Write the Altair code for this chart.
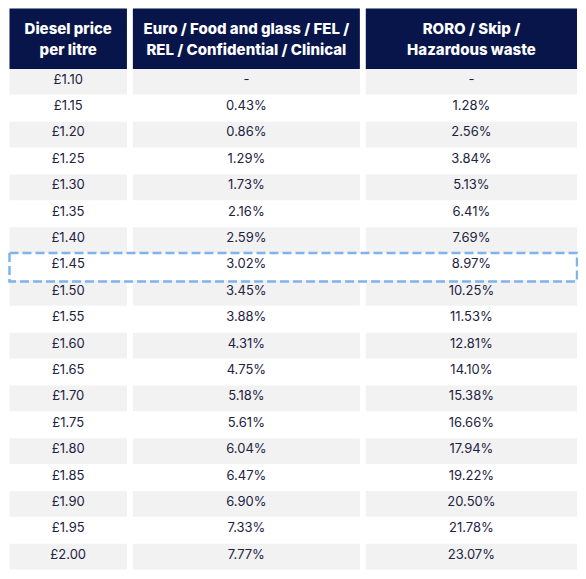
import altair as alt
import pandas as pd

# ---- data ----
headers = [
    "Diesel price\nper litre",
    "Euro / Food and glass / FEL /\nREL / Confidential / Clinical",
    "RORO / Skip /\nHazardous waste",
]
prices = ["£1.10", "£1.15", "£1.20", "£1.25", "£1.30", "£1.35", "£1.40", "£1.45",
          "£1.50", "£1.55", "£1.60", "£1.65", "£1.70", "£1.75", "£1.80", "£1.85",
          "£1.90", "£1.95", "£2.00"]
euro = ["-", "0.43%", "0.86%", "1.29%", "1.73%", "2.16%", "2.59%", "3.02%",
        "3.45%", "3.88%", "4.31%", "4.75%", "5.18%", "5.61%", "6.04%", "6.47%",
        "6.90%", "7.33%", "7.77%"]
roro = ["-", "1.28%", "2.56%", "3.84%", "5.13%", "6.41%", "7.69%", "8.97%",
        "10.25%", "11.53%", "12.81%", "14.10%", "15.38%", "16.66%", "17.94%", "19.22%",
        "20.50%", "21.78%", "23.07%"]
highlight_price = "£1.45"

# ---- layout ----
COL_LEFT = [0, 125, 361]
COL_RIGHT = [119, 355, 575]
W, H = 570, 563
REF_ROW_PX = 26.67
HDR_ROWS = 61 / REF_ROW_PX
N = len(prices)

NAVY = "#07154a"
GRAY = "#f2f2f2"
TXT = "#1d2242"
DASH = "#7db4ec"
FONT = "Inter"

columns = [prices, euro, roro]
rows = []
for c, vals in enumerate(columns):
    for i, v in enumerate(vals):
        rows.append({"row": i, "col": c, "label": v, "shade": i % 2 == 0,
                     "x0": COL_LEFT[c], "x1": COL_RIGHT[c],
                     "xc": (COL_LEFT[c] + COL_RIGHT[c]) / 2})
cells = pd.DataFrame(rows)
hdr = pd.DataFrame({"col": [0, 1, 2], "label": headers,
                    "x0": COL_LEFT, "x1": COL_RIGHT,
                    "xc": [(a + b) / 2 for a, b in zip(COL_LEFT, COL_RIGHT)]})
hl = pd.DataFrame({"row": [prices.index(highlight_price)],
                   "x0": [COL_LEFT[0]], "x1": [COL_RIGHT[-1]]})

xs = alt.Scale(domain=[-1.5, 576], nice=False, zero=False)
ys = alt.Scale(domain=[-HDR_ROWS - 0.02, N + 0.03],
               reverse=True, nice=False, zero=False)

def X(f):
    return alt.X(f, type="quantitative", scale=xs, axis=None)

def Y(f):
    return alt.Y(f, type="quantitative", scale=ys, axis=None)

gray = alt.Chart(cells).transform_filter("datum.shade").transform_calculate(
    y2="datum.row + 0.975"
).mark_rect(color=GRAY).encode(x=X("x0"), x2="x1", y=Y("row"), y2="y2:Q")

head_bg = alt.Chart(hdr).transform_calculate(
    ytop=str(-HDR_ROWS), ybot="0"
).mark_rect(color=NAVY).encode(x=X("x0"), x2="x1", y=Y("ytop"), y2="ybot:Q")

head_txt = alt.Chart(hdr).transform_calculate(
    yt=str(-HDR_ROWS + 25.7 / REF_ROW_PX)
).mark_text(font=FONT, fontWeight=800, fontSize=15, color="white",
            lineBreak="\n", lineHeight=21.5, baseline="alphabetic", align="center"
).encode(x=X("xc"), y=Y("yt"), text="label:N")

body_txt = alt.Chart(cells).transform_calculate(
    yt="datum.row + 0.5625"
).mark_text(font=FONT, fontSize=13, color=TXT, baseline="alphabetic",
            align="center").encode(x=X("xc"), y=Y("yt"), text="label:N")

hl_rect = alt.Chart(hl).transform_calculate(
    ya="datum.row - 0.02", yb="datum.row + 1.06"
).mark_rect(fill=None, fillOpacity=0, stroke=DASH, strokeWidth=2.5,
            strokeDash=[9, 4]).encode(x=X("x0"), x2="x1", y=Y("ya"), y2="yb:Q")

chart = alt.layer(gray, head_bg, head_txt, body_txt, hl_rect).properties(
    width=W, height=H, padding=0, autosize="none", background="white"
).configure_view(stroke=None)

chart.save("out.html", embed_options={"renderer": "svg", "actions": False})
